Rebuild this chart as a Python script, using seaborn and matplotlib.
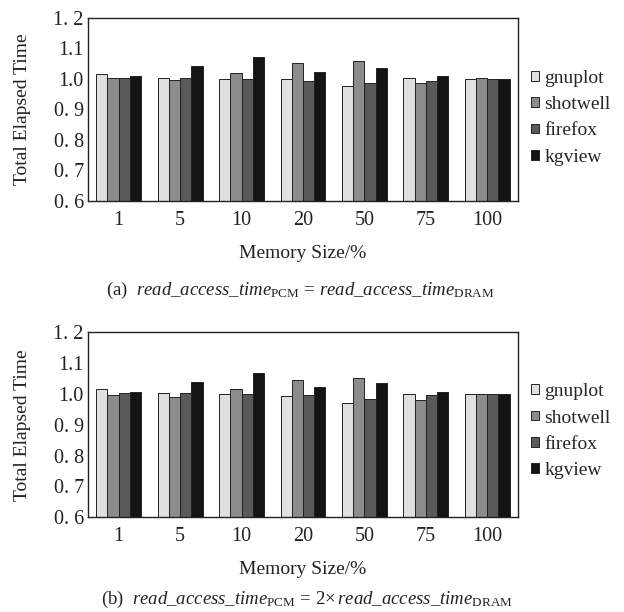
import matplotlib
matplotlib.use("Agg")
import matplotlib.pyplot as plt
import seaborn as sns
import pandas as pd

sizes = ["1", "5", "10", "20", "50", "75", "100"]
apps = ["gnuplot", "shotwell", "firefox", "kgview"]

a_gnuplot = [1.016, 1.004, 1.000, 1.000, 0.977, 1.004, 1.000]
a_shotwell = [1.004, 0.996, 1.019, 1.051, 1.060, 0.986, 1.003]
a_firefox = [1.004, 1.004, 0.999, 0.995, 0.986, 0.995, 1.000]
a_kgview = [1.009, 1.042, 1.073, 1.022, 1.035, 1.009, 1.000]

b_gnuplot = [1.016, 1.004, 1.000, 0.994, 0.972, 1.000, 0.999]
b_shotwell = [0.997, 0.990, 1.017, 1.045, 1.053, 0.981, 0.999]
b_firefox = [1.002, 1.003, 0.999, 0.995, 0.985, 0.998, 0.999]
b_kgview = [1.007, 1.040, 1.067, 1.021, 1.036, 1.007, 0.999]

yticks = [0.6, 0.7, 0.8, 0.9, 1.0, 1.1, 1.2]
ytick_labels = ["0. 6", "0. 7", "0. 8", "0. 9", "1.0", "1.1", "1. 2"]
colors = ["#e0e0e0", "#8c8c8c", "#5a5a5a", "#141414"]

sns.set_theme(style="white")
plt.rcParams["font.family"] = ["Liberation Serif", "DejaVu Serif"]
plt.rcParams["mathtext.fontset"] = "custom"
plt.rcParams["mathtext.rm"] = "Liberation Serif"
plt.rcParams["mathtext.it"] = "Liberation Serif:italic"

fig = plt.figure(figsize=(6.24, 6.12), dpi=100)
ax_a = fig.add_axes([0.141, 0.6716, 0.689, 0.299])
ax_b = fig.add_axes([0.141, 0.155, 0.689, 0.302])

def make_df(series):
    rows = []
    for app, vals in zip(apps, series):
        for s, v in zip(sizes, vals):
            rows.append({"size": s, "app": app, "value": v})
    return pd.DataFrame(rows)

panels = [
    (ax_a, [a_gnuplot, a_shotwell, a_firefox, a_kgview],
     r"(a)  $\mathit{read\_access\_time}_{\mathrm{PCM}}\,=\,\mathit{read\_access\_time}_{\mathrm{DRAM}}$",
     0.526, 0.481, 0.455),
    (ax_b, [b_gnuplot, b_shotwell, b_firefox, b_kgview],
     r"(b)  $\mathit{read\_access\_time}_{\mathrm{PCM}}\,=\,2{\times}\,\mathit{read\_access\_time}_{\mathrm{DRAM}}$",
     0.021, 0.492, 0.465),
]

for ax, series, caption, cy, cx, ly in panels:
    df = make_df(series)
    sns.barplot(data=df, x="size", y="value", hue="app", order=sizes,
                hue_order=apps, palette=colors, width=0.73, ax=ax,
                edgecolor="#222222", linewidth=0.7, saturation=1)
    ax.set_ylim(0.6, 1.2)
    ax.set_xlim(-0.5, 6.5)
    ax.set_yticks(yticks)
    ax.set_yticklabels(ytick_labels)
    ax.tick_params(axis="both", length=0, labelsize=14.5, colors="#222222")
    ax.tick_params(axis="x", pad=7)
    ax.tick_params(axis="y", pad=3)
    ax.set_ylabel("Total Elapsed Time", fontsize=14, color="#222222")
    ax.yaxis.set_label_coords(-0.132, 0.5)
    ax.set_xlabel("Memory Size/%", fontsize=14, color="#222222", labelpad=11)
    for sp in ax.spines.values():
        sp.set_visible(True)
        sp.set_color("#222222")
        sp.set_linewidth(1.0)
    ax.legend(loc="center left", bbox_to_anchor=(1.012, ly), frameon=False,
              fontsize=14, handlelength=0.4, handleheight=0.4,
              handletextpad=0.3, labelspacing=0.48, borderaxespad=0.0)
    fig.text(cx, cy, caption, ha="center", va="center", fontsize=13.5,
             color="#222222")

fig.savefig("out.png", dpi=100, facecolor="white")
